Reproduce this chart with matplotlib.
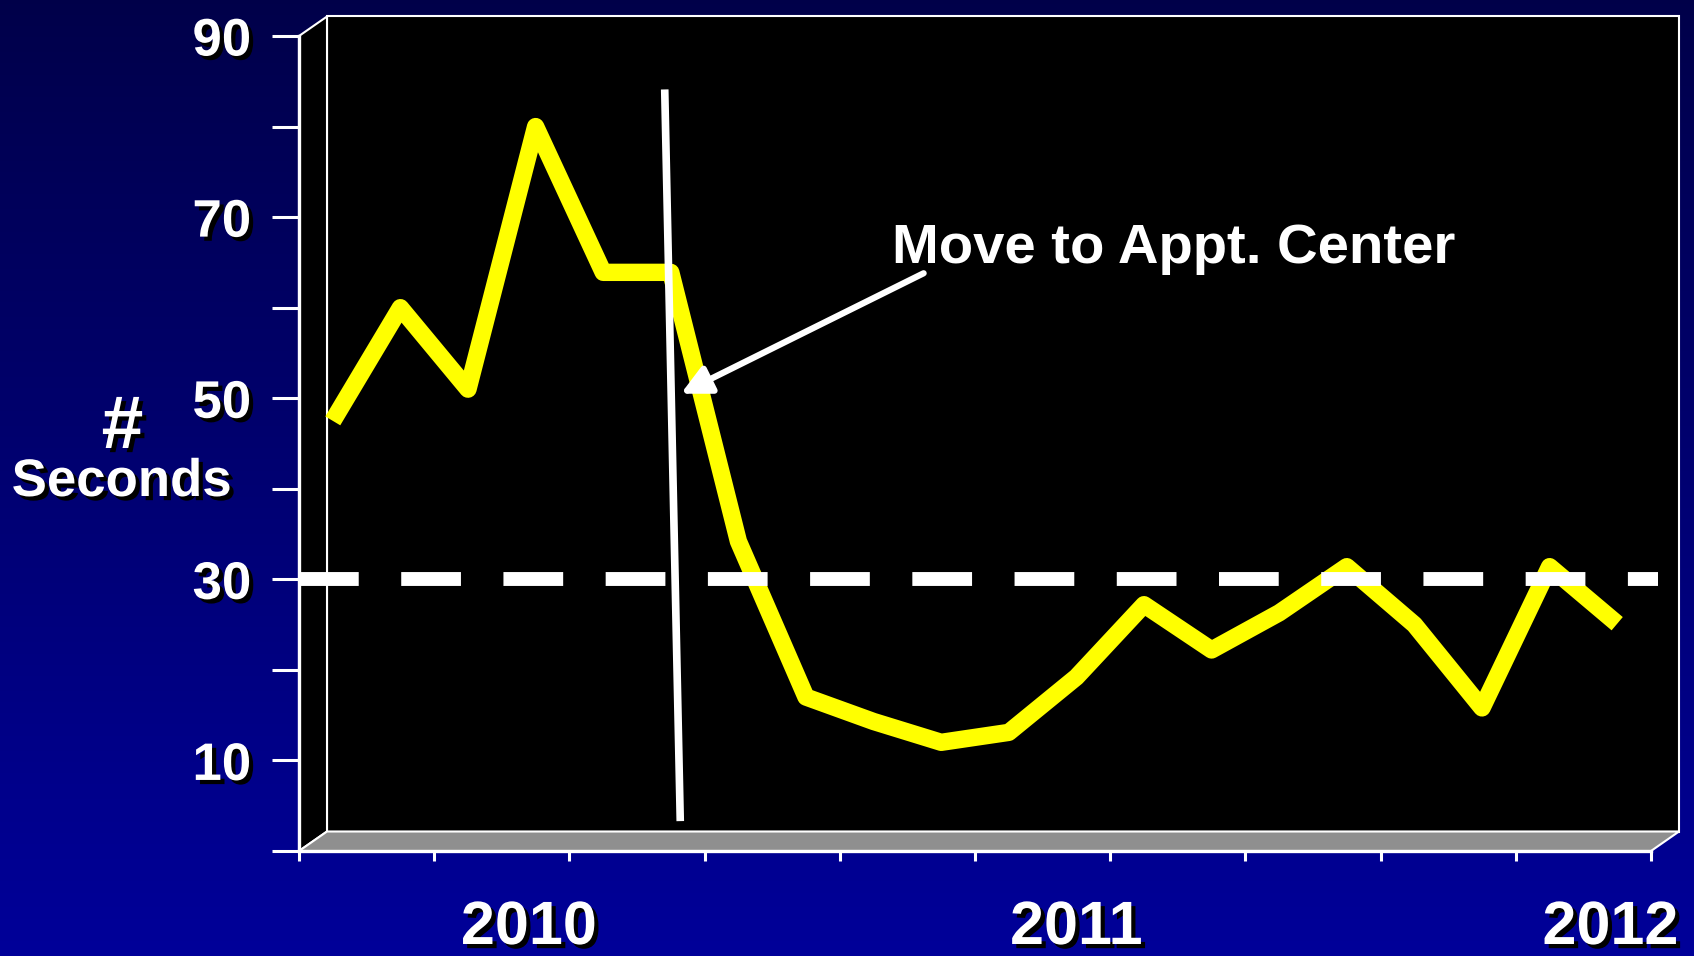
import numpy as np
import matplotlib
matplotlib.use("Agg")
import matplotlib.pyplot as plt
from matplotlib.patches import Rectangle, Polygon
import matplotlib.patheffects as pe

# monthly values, 20 months starting early 2010
months = np.arange(20) + 0.5
seconds = [47.5, 60, 51, 80, 63.9, 63.9, 34.2, 17, 14.3, 12, 13.1, 19.2,
           27.2, 22.2, 26.3, 31.4, 25, 15.8, 31.4, 25.1]
target = 30
y_ticks = list(range(0, 100, 10))
y_labels = ["", "10", "", "30", "", "50", "", "70", "", "90"]
x_ticks = list(range(0, 21, 2))
year_pos = [3.4, 11.5, 19.4]
year_labels = ["2010", "2011", "2012"]

W, H = 1694, 956
fig = plt.figure(figsize=(W / 100, H / 100), dpi=100)

# blue gradient background
bg = fig.add_axes([0, 0, 1, 1], zorder=-10)
grad = np.linspace(0, 1, 256).reshape(-1, 1)
top = np.array([0.0, 0.0, 0.29])
bot = np.array([0.0, 0.0, 0.60])
img = top + (bot - top) * grad[:, :, None]
bg.imshow(img, aspect="auto", extent=[0, 1, 0, 1])
bg.set_axis_off()

# front plane of the pseudo-3D box
left, right, top_px, bottom_px = 299, 1651, 36, 851
ax = fig.add_axes([left / W, 1 - bottom_px / H, (right - left) / W, (bottom_px - top_px) / H])
ax.set_facecolor("none")
ax.set_xlim(0, 20)
ax.set_ylim(0, 90)

dx = 28 / (right - left)
dy = 19.5 / (bottom_px - top_px)
wall = Rectangle((dx, dy), 1, 1, transform=ax.transAxes, facecolor="black",
                 edgecolor="white", lw=1.5, clip_on=False, zorder=0.2)
side = Polygon([(0, 0), (dx, dy), (dx, 1 + dy), (0, 1)], closed=True, transform=ax.transAxes,
               facecolor="black", edgecolor="white", lw=1.5, clip_on=False, zorder=0.3)
floor = Polygon([(0, 0), (1, 0), (1 + dx, dy), (dx, dy)], closed=True, transform=ax.transAxes,
                facecolor="#8f8f8f", edgecolor="white", lw=1.5, clip_on=False, zorder=0.3)
for p in (wall, side, floor):
    ax.add_patch(p)

ax.plot(months, seconds, color="#ffff00", lw=12.5, solid_joinstyle="round",
        solid_capstyle="butt", zorder=2, clip_on=False)
ax.axhline(target, xmin=0, xmax=1.005, color="white", lw=10,
           linestyle=(0, (4.3, 3.06)), dash_capstyle="butt", zorder=3, clip_on=False)

# marker for the move
ax.plot([5.41, 5.64], [84.1, 3.3], color="white", lw=5.5, solid_capstyle="butt", zorder=4)
ax.annotate("", xy=(5.65, 50.5), xytext=(9.24, 63.8),
            arrowprops=dict(arrowstyle="-|>", color="white", lw=4.5,
                            mutation_scale=44, shrinkA=0, shrinkB=0), zorder=5)
ax.text(8.77, 64.9, "Move to Appt. Center", color="white", fontsize=40.5,
        fontweight="bold", family="Liberation Sans", ha="left", va="baseline", zorder=5)

shadow = [pe.SimplePatchShadow(offset=(3, -3), shadow_rgbFace="black", alpha=1), pe.Normal()]

for s in ("top", "right"):
    ax.spines[s].set_visible(False)
for s in ("left", "bottom"):
    ax.spines[s].set_color("white")
    ax.spines[s].set_linewidth(2.4)
    ax.spines[s].set_zorder(6)

ax.set_yticks(y_ticks, labels=y_labels)
ax.set_xticks(x_ticks, labels=[""] * len(x_ticks))
ax.tick_params(axis="y", direction="out", length=19.4, width=2.2, color="white",
               labelcolor="white", labelsize=38, pad=15)
ax.tick_params(axis="x", direction="out", length=7.5, width=2.2, color="white")
for lbl in ax.get_yticklabels():
    lbl.set_fontweight("bold")
    lbl.set_family("Liberation Sans")
    lbl.set_path_effects(shadow)

for x, t in zip(year_pos, year_labels):
    ax.text(x, -10.27, t, color="white", fontsize=44, fontweight="bold",
            family="Liberation Sans", ha="center", va="baseline", clip_on=False,
            path_effects=shadow)

fig.text(122.5 / W, 1 - 448 / H, "#", color="white", fontsize=54, fontweight="bold",
         family="Liberation Sans", ha="center", va="baseline", path_effects=shadow)
fig.text(121.5 / W, 1 - 496 / H, "Seconds", color="white", fontsize=38, fontweight="bold",
         family="Liberation Sans", ha="center", va="baseline", path_effects=shadow)

fig.savefig("out.png", dpi=100)
